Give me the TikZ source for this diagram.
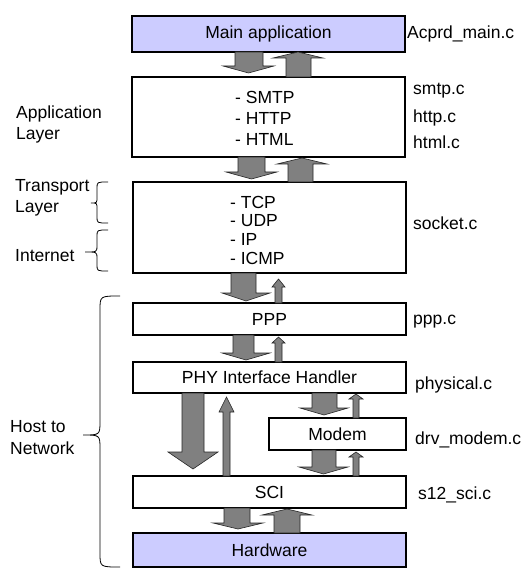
\documentclass[tikz,border=0pt]{standalone}
\usepackage{fontspec}
\setmainfont{Liberation Sans}
\definecolor{lav}{HTML}{CCCCFF}
\definecolor{arrgray}{HTML}{808080}
\newcommand\blkdown[7]{% sl sr hl hr top base tip
  \filldraw[blkarrow] (#1,#5) -- (#2,#5) -- (#2,#6) -- (#4,#6) -- ({(#3+#4)/2},#7) -- (#3,#6) -- (#1,#6) -- cycle;}
\newcommand\blkup[7]{% sl sr hl hr bottom base tip
  \filldraw[blkarrow] (#1,#5) -- (#2,#5) -- (#2,#6) -- (#4,#6) -- ({(#3+#4)/2},#7) -- (#3,#6) -- (#1,#6) -- cycle;}
\newcommand\mybrace[7]{% xe spine tip top mid bot r
  \draw[bracestyle] (#1,#4) .. controls (#2,#4) .. (#2,#4+#7) -- (#2,#5-#7) .. controls (#2,#5) .. (#3,#5) .. controls (#2,#5) .. (#2,#5+#7) -- (#2,#6-#7) .. controls (#2,#6) .. (#1,#6);}
\begin{document}
\begin{tikzpicture}[x=1pt,y=-1pt,
  every node/.style={font=\fontsize{17.5}{21.5}\selectfont},
  layerbox/.style={draw=black,line width=1.5pt,fill=white},
  hwbox/.style={draw=black,line width=1.5pt,fill=lav},
  blkarrow/.style={fill=arrgray,draw=black!85,line width=0.6pt,line join=miter},
  bracestyle/.style={draw=black,line width=0.8pt},
  lbl/.style={anchor=west,inner sep=0pt,align=left},
  txt/.style={inner sep=0pt}]
\useasboundingbox (0,0) rectangle (527,569);
% boxes
\draw[hwbox] (132,16) rectangle (405,52);
\node[txt] (main) at (268.5,34) {Main application};
\draw[layerbox] (132,77) rectangle (405,157);
\node[lbl] (smtp) at (235,97) {- SMTP};
\node[lbl] (http) at (235,118) {- HTTP};
\node[lbl] (html) at (235,139) {- HTML};
\draw[layerbox] (133,182) rectangle (406,273);
\node[lbl] (tcp) at (230,202) {- TCP};
\node[lbl] (udp) at (230,220.5) {- UDP};
\node[lbl] (ip) at (230,239) {- IP};
\node[lbl] (icmp) at (230,258) {- ICMP};
\draw[layerbox] (133,303) rectangle (406,335);
\node[txt] (ppp) at (269.5,319) {PPP};
\draw[layerbox] (133,362) rectangle (406,393);
\node[txt] (phy) at (269.5,377.5) {PHY Interface Handler};
\draw[layerbox] (269,418) rectangle (406,450);
\node[txt] (modem) at (337.5,434) {Modem};
\draw[layerbox] (133,476) rectangle (406,508);
\node[txt] (sci) at (269.5,492) {SCI};
\draw[hwbox] (133,533) rectangle (406,567);
\node[txt] (hw) at (269.5,550) {Hardware};
% block arrows
\blkdown{235}{263}{223}{274}{52}{66}{73}
\blkup{286}{311}{273}{323}{77}{58}{52}
\blkdown{238}{265}{226}{277}{157}{172}{179}
\blkup{288}{313}{277}{327}{182}{164}{158}
\blkdown{231}{256}{222}{270}{273}{293}{301}
\blkup{275}{282}{272}{285}{303}{287}{279}
\blkdown{233}{254}{222}{270}{335}{353}{360}
\blkup{275}{282}{272}{285}{362}{343}{337}
\blkdown{182}{204}{168}{218}{393}{452}{469}
\blkup{223}{230}{219}{234}{476}{412}{397}
\blkdown{312}{337}{300}{348}{393}{408}{415}
\blkup{353}{359}{349}{363}{418}{399}{394}
\blkdown{312}{336}{299}{348}{450}{467}{474}
\blkup{353}{359}{349}{363}{476}{457}{452}
\blkdown{224}{250}{213}{263}{508}{523}{529}
\blkup{274}{300}{262}{312}{533}{515}{509}
% right labels
\node[lbl] (f1) at (407,34) {Acprd\_main.c};
\node[lbl] (f2) at (413,91) {smtp.c};
\node[lbl] (f3) at (413,118) {http.c};
\node[lbl] (f4) at (413,142) {html.c};
\node[lbl] (f5) at (413,223) {socket.c};
\node[lbl] (f6) at (413,322) {ppp.c};
\node[lbl] (f7) at (415,385) {physical.c};
\node[lbl] (f8) at (415,440) {drv\_modem.c};
\node[lbl] (f9) at (418,495) {s12\_sci.c};
% left labels
\node[lbl] (al) at (16,124.5) {Application\\Layer};
\node[lbl] (tl) at (15,198) {Transport\\Layer};
\node[lbl] (il) at (15,256) {Internet};
\node[lbl] (hn) at (10,437.5) {Host to\\Network};
% braces
\mybrace{108}{97}{91}{182}{203}{223}{6}
\mybrace{108}{97}{85}{230}{252}{271}{6}
\mybrace{120}{100}{83}{296}{435}{567}{14}
\end{tikzpicture}
\end{document}
